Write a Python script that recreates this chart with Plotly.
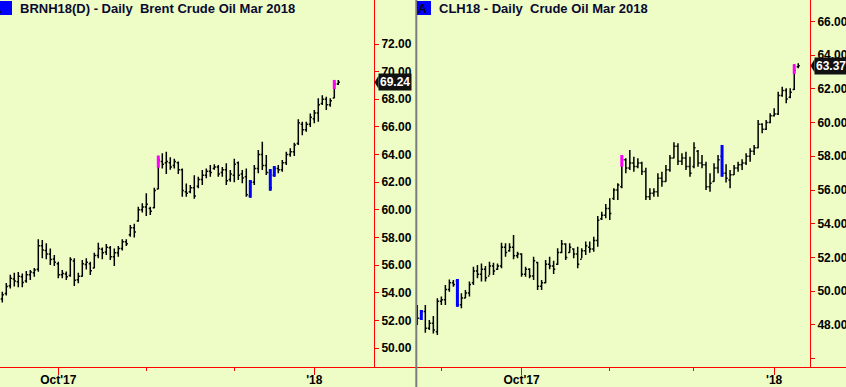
import plotly.graph_objects as go

# ---------------- data: Brent (left panel) ----------------
brent_high = [54.08, 54.70, 55.30, 55.45, 55.50, 55.40, 55.57, 55.65, 55.80, 57.87,
              57.82, 57.58, 57.21, 56.73, 56.25, 55.65, 55.53, 56.57, 56.49, 55.45,
              56.37, 56.49, 56.25, 56.90, 57.62, 57.28, 57.53, 57.38, 57.21, 57.38,
              57.87, 57.87, 58.90, 59.00, 60.23, 60.47, 61.20, 60.23, 61.60, 63.92,
              64.10, 64.20, 63.80, 63.70, 63.50, 63.00, 61.90, 61.80, 62.50, 62.40,
              62.88, 63.00, 63.24, 63.30, 63.24, 63.10, 63.37, 62.88, 63.70, 63.50,
              62.88, 63.00, 62.16, 63.24, 64.33, 64.93, 63.97, 62.95, 63.17, 63.24,
              63.60, 64.20, 64.45, 64.86, 66.55, 66.38, 66.38, 66.98, 67.22, 68.07,
              68.30, 68.19, 68.07, 69.40, 69.40]
brent_low = [53.30, 53.80, 54.30, 54.45, 54.40, 54.40, 54.73, 54.92, 55.16, 55.52,
             56.49, 56.42, 56.01, 55.93, 55.05, 55.05, 54.92, 55.16, 54.49, 54.68,
             55.16, 55.69, 55.28, 55.77, 56.49, 56.42, 56.73, 56.37, 55.93, 56.61,
             57.05, 57.38, 58.06, 58.00, 59.14, 59.80, 59.55, 59.63, 60.11, 61.49,
             63.00, 62.60, 62.90, 63.00, 62.60, 60.95, 60.95, 61.20, 60.80, 61.56,
             61.80, 62.28, 62.40, 62.90, 62.40, 62.40, 61.80, 62.04, 62.00, 62.16,
             61.92, 60.95, 60.88, 61.80, 62.64, 62.88, 62.52, 61.39, 62.40, 62.64,
             62.76, 63.24, 63.85, 63.90, 64.70, 65.40, 65.65, 66.00, 66.26, 66.38,
             67.59, 67.22, 67.46, 68.07, 69.03]
brent_open = [53.55, 53.95, 54.50, 55.00, 54.80, 55.15, 54.85, 55.30, 55.45, 55.70,
              57.40, 57.05, 56.80, 56.45, 56.10, 55.30, 55.35, 55.25, 56.30, 54.95,
              55.20, 56.05, 56.10, 55.80, 56.70, 57.15, 56.95, 57.25, 56.60, 56.90,
              57.20, 57.70, 58.20, 58.70, 59.20, 60.00, 60.20, 60.10, 60.15, 61.50,
              63.50, 63.40, 63.40, 63.20, 63.40, 62.90, 61.30, 61.30, 61.60, 61.70,
              62.20, 62.50, 62.80, 63.00, 63.10, 62.70, 62.90, 62.20, 62.50, 63.40,
              62.60, 62.40, 61.00, 62.00, 63.00, 64.00, 63.20, 62.70, 62.50, 63.00,
              62.90, 63.40, 64.00, 64.20, 64.80, 66.20, 65.80, 66.20, 66.60, 67.00,
              67.70, 68.00, 67.60, 68.10, 69.10]
brent_close = [53.85, 54.45, 55.05, 54.85, 55.20, 54.75, 55.30, 55.50, 55.65, 57.40,
               57.10, 56.80, 56.40, 56.20, 55.30, 55.40, 55.15, 56.40, 54.90, 55.20,
               56.10, 56.20, 55.60, 56.70, 57.20, 56.90, 57.30, 56.60, 56.90, 57.20,
               57.70, 57.55, 58.70, 58.40, 60.00, 60.20, 60.40, 59.90, 61.40, 63.60,
               63.30, 63.50, 63.10, 63.50, 62.90, 61.40, 61.20, 61.60, 61.00, 62.20,
               62.50, 62.80, 62.70, 63.10, 62.60, 62.90, 62.10, 62.60, 63.30, 62.50,
               62.30, 61.10, 62.00, 63.00, 64.00, 63.20, 62.70, 61.60, 63.00, 62.90,
               63.40, 64.00, 64.20, 64.70, 66.30, 65.80, 66.20, 66.70, 67.00, 67.60,
               68.00, 67.60, 67.90, 69.10, 69.24]
brent_hl_idx = [39, 62, 67, 68, 83]
brent_hl_lo = [63.05, 60.88, 61.39, 62.40, 68.74]
brent_hl_hi = [63.92, 62.16, 62.95, 63.17, 69.40]
brent_hl_col = ["#ff00ff", "#0000ff", "#0000ff", "#0000ff", "#ff00ff"]
brent_tick_major = [14, 78]
brent_tick_major_text = ["Oct'17", "'18"]
brent_tick_minor = [36, 58]
brent_yticks = [50, 52, 54, 56, 58, 60, 62, 64, 66, 68, 70, 72]

# ---------------- data: WTI (right panel) ----------------
wti_high = [49.18, 48.89, 49.18, 48.30, 48.53, 49.58, 49.68, 50.37, 50.70, 50.67,
            50.72, 49.88, 50.07, 50.57, 51.45, 51.55, 51.65, 51.49, 51.75, 51.69,
            51.65, 52.88, 52.84, 52.84, 53.33, 52.34, 52.25, 51.45, 51.36, 52.05,
            51.75, 50.67, 51.85, 52.05, 51.81, 52.54, 53.04, 52.84, 52.84, 52.54,
            52.64, 52.54, 52.94, 52.94, 53.23, 54.46, 54.71, 55.17, 55.51, 56.10,
            56.40, 58.07, 57.88, 58.37, 57.97, 57.88, 57.68, 57.32, 56.10, 56.10,
            56.99, 57.08, 57.48, 58.07, 58.83, 58.77, 58.18, 58.27, 57.97, 58.83,
            58.37, 58.07, 57.68, 56.99, 57.58, 58.07, 58.67, 57.52, 57.19, 57.48,
            57.68, 57.82, 58.18, 58.47, 58.67, 60.15, 59.95, 60.15, 60.55, 60.84,
            61.83, 62.12, 62.03, 62.03, 63.45, 63.51]
wti_low = [48.00, 48.30, 47.54, 47.70, 47.50, 47.40, 49.18, 49.18, 49.97, 50.27,
           49.08, 48.99, 49.58, 49.68, 50.37, 50.77, 50.57, 50.57, 50.96, 50.96,
           51.26, 51.36, 52.05, 52.34, 51.89, 51.95, 50.86, 50.86, 50.77, 50.67,
           50.07, 50.07, 50.47, 51.30, 51.02, 51.55, 52.25, 51.85, 52.28, 51.95,
           51.36, 51.95, 52.15, 52.28, 52.34, 52.64, 54.22, 54.32, 54.22, 55.41,
           55.40, 56.10, 56.99, 57.19, 57.08, 57.29, 56.89, 55.41, 55.41, 55.60,
           55.60, 56.20, 56.49, 57.08, 57.88, 57.48, 57.48, 57.19, 56.79, 57.29,
           57.38, 57.29, 56.00, 55.90, 56.49, 56.99, 56.79, 56.45, 56.10, 56.89,
           57.08, 57.19, 57.48, 57.68, 58.07, 58.47, 59.36, 59.56, 59.95, 60.35,
           60.45, 61.53, 61.14, 61.44, 61.93, 63.21]
wti_open = [48.90, 48.40, 48.80, 47.80, 48.10, 47.60, 49.40, 49.50, 50.10, 50.50,
            50.60, 49.20, 49.60, 49.90, 50.50, 51.20, 51.00, 51.30, 50.90, 51.50,
            51.30, 51.50, 52.60, 52.40, 52.60, 52.10, 52.20, 51.00, 51.30, 50.90,
            51.70, 50.30, 50.50, 51.60, 51.50, 51.60, 52.30, 52.80, 52.30, 52.50,
            52.20, 51.90, 52.40, 52.60, 52.50, 53.00, 54.30, 54.50, 54.90, 55.50,
            56.00, 56.20, 57.80, 57.30, 57.60, 57.40, 57.60, 57.10, 55.60, 55.80,
            55.90, 56.70, 56.50, 57.20, 57.90, 58.60, 57.70, 57.90, 57.40, 57.40,
            58.30, 57.60, 57.50, 56.20, 56.50, 57.30, 58.00, 57.00, 56.60, 56.90,
            57.30, 57.50, 57.60, 58.00, 58.30, 58.50, 59.90, 59.60, 60.00, 60.40,
            60.50, 61.60, 61.90, 61.50, 61.95, 63.30]
wti_close = [48.40, 48.80, 47.80, 48.10, 47.70, 49.40, 49.50, 50.10, 50.50, 50.40,
             49.20, 49.60, 49.90, 50.40, 51.20, 51.00, 51.30, 50.80, 51.50, 51.20,
             51.50, 52.60, 52.30, 52.60, 52.10, 52.20, 51.00, 51.30, 50.90, 51.80,
             50.30, 50.50, 51.60, 51.50, 51.30, 52.30, 52.80, 52.00, 52.60, 52.20,
             51.60, 52.40, 52.70, 52.50, 53.00, 54.20, 54.50, 54.90, 54.60, 56.00,
             56.30, 57.80, 57.30, 57.60, 57.40, 57.60, 57.10, 55.60, 55.80, 55.90,
             56.70, 56.50, 57.20, 57.90, 58.60, 57.70, 57.90, 57.40, 57.00, 58.50,
             57.60, 57.50, 56.20, 56.40, 57.30, 57.80, 57.00, 56.70, 56.90, 57.30,
             57.50, 57.60, 58.00, 58.30, 58.50, 59.90, 59.60, 60.00, 60.40, 60.50,
             61.60, 61.90, 61.40, 61.80, 63.10, 63.37]
wti_hl_idx = [1, 10, 51, 76, 94]
wti_hl_lo = [48.30, 49.08, 57.38, 56.79, 62.88]
wti_hl_hi = [48.89, 50.72, 58.07, 58.67, 63.45]
wti_hl_col = ["#0000ff", "#0000ff", "#ff00ff", "#0000ff", "#ff00ff"]
wti_tick_major = [26, 89]
wti_tick_major_text = ["Oct'17", "'18"]
wti_tick_minor = [6, 48, 69]
wti_yticks = [46, 48, 50, 52, 54, 56, 58, 60, 62, 64, 66]

titles = ["BRNH18(D) - Daily\u00a0 Brent Crude Oil Mar 2018",
          "CLH18 - Daily\u00a0 Crude Oil Mar 2018"]

# ---------------- styling / geometry ----------------
W, H = 846, 387
BG = "#edfdc5"
RED = "#ff0000"
FONT = "Liberation Sans, Arial, sans-serif"
plot_bottom_px = 366.5
ydom = [(H - plot_bottom_px) / H, 1.0]


def px(x):
    return x / W


def py(y):
    return 1 - y / H


fig = go.Figure()


def add_panel(xa, ya, high, low, opn, close, hl_idx, hl_lo, hl_hi, hl_col):
    n = len(high)
    xs = list(range(n))
    fig.add_trace(go.Ohlc(
        x=xs, open=opn, high=high, low=low, close=close,
        increasing=dict(line=dict(color="black", width=1.5)),
        decreasing=dict(line=dict(color="black", width=1.5)),
        tickwidth=0.4, xaxis=xa, yaxis=ya, hoverinfo="skip", showlegend=False))
    for col in sorted(set(hl_col)):
        hx, hy = [], []
        for i, lo, hi, c in zip(hl_idx, hl_lo, hl_hi, hl_col):
            if c == col:
                hx += [i, i, None]
                hy += [lo, hi, None]
        fig.add_trace(go.Scatter(x=hx, y=hy, mode="lines",
                                 line=dict(color=col, width=3),
                                 xaxis=xa, yaxis=ya, hoverinfo="skip",
                                 showlegend=False))


add_panel("x", "y", brent_high, brent_low, brent_open, brent_close,
          brent_hl_idx, brent_hl_lo, brent_hl_hi, brent_hl_col)
add_panel("x2", "y2", wti_high, wti_low, wti_open, wti_close,
          wti_hl_idx, wti_hl_lo, wti_hl_hi, wti_hl_col)

# pixel geometry of bar positions
L_x0, L_step = 2.3, 4.0
R_x0, R_step = 417.3, 4.01
L_dom = [0, 416]
R_dom = [417, 846]


def xrange_for(dom, x0, step):
    return [(dom[0] - x0) / step, (dom[1] - x0) / step]


# y ranges (price at top/bottom pixel)
L_top = 72 + 44 / 13.82
L_bot = 72 - (plot_bottom_px - 44) / 13.82
R_top = 66 + 21.3 / 16.87
R_bot = 66 - (plot_bottom_px - 21.3) / 16.87

tickfont = dict(family=FONT, size=12, color="black", weight="bold")

common_x = dict(showgrid=False, zeroline=False, showline=True, linecolor=RED,
                linewidth=1, ticks="outside", tickcolor=RED, ticklen=7,
                tickwidth=1, tickfont=tickfont, tickmode="array",
                ticklabelstandoff=-5,
                rangeslider=dict(visible=False), automargin=False, fixedrange=True)
common_y = dict(showgrid=False, zeroline=False, showline=True, linecolor=RED,
                linewidth=1, ticks="outside", tickcolor=RED, ticklen=4,
                tickwidth=1, tickfont=tickfont, tickmode="array", side="right",
                anchor="free", automargin=False, domain=ydom, fixedrange=True)

fig.update_layout(
    width=W, height=H, margin=dict(l=0, r=0, t=0, b=0),
    paper_bgcolor=BG, plot_bgcolor=BG, showlegend=False,
    xaxis=dict(common_x, domain=[px(L_dom[0]), px(L_dom[1])],
               range=xrange_for(L_dom, L_x0, L_step), anchor="y",
               tickvals=brent_tick_major, ticktext=brent_tick_major_text,
               minor=dict(tickmode="array", tickvals=brent_tick_minor,
                          ticks="outside", ticklen=3, tickcolor=RED)),
    yaxis=dict(common_y, range=[L_bot, L_top], position=px(374),
               tickvals=brent_yticks,
               ticktext=[f"{v:.2f}" for v in brent_yticks]),
    xaxis2=dict(common_x, domain=[px(R_dom[0]), px(R_dom[1])],
                range=xrange_for(R_dom, R_x0, R_step), anchor="y2",
                tickvals=wti_tick_major, ticktext=wti_tick_major_text,
                minor=dict(tickmode="array", tickvals=wti_tick_minor,
                           ticks="outside", ticklen=3, tickcolor=RED)),
    yaxis2=dict(common_y, range=[R_bot, R_top], position=px(810),
                tickvals=wti_yticks,
                ticktext=["" if v == 46 else f"{v:.2f}" for v in wti_yticks]),
)

shapes = []
annotations = []

# divider between the two panels
shapes.append(dict(type="line", xref="paper", yref="paper",
                   x0=px(416.3), x1=px(416.3), y0=0, y1=1,
                   line=dict(color="#7c7c7c", width=2)))

# blue "A" boxes + titles
for (bx0, bx1, ax, tx, title) in [(-8, 12, 3.5, 18, titles[0]),
                                  (417, 431, 422.5, 437, titles[1])]:
    shapes.append(dict(type="rect", xref="paper", yref="paper",
                       x0=px(bx0), x1=px(bx1), y0=py(15), y1=py(1),
                       fillcolor="#0000ff", line=dict(width=0), layer="above"))
    annotations.append(dict(text="A", xref="paper", yref="paper",
                            x=px(ax), y=py(8.5), xanchor="center" if bx0 > 0 else "right",
                            yanchor="middle", showarrow=False,
                            font=dict(family=FONT, size=12, color="#000020",
                                      weight="bold")))
    annotations.append(dict(text=title, xref="paper", yref="paper",
                            x=px(tx), y=py(8.5), xanchor="left", yanchor="middle",
                            showarrow=False,
                            font=dict(family=FONT, size=13, color="#0a0a30",
                                      weight="bold")))

# last price labels
for (yref, last, axis_px, ppu) in [("y", brent_close[-1], 374, 13.82),
                                   ("y2", wti_close[-1], 810, 16.87)]:
    half = 6.5 / ppu
    tip = px(axis_px + 0.5)
    base = px(axis_px + 4.5)
    shapes.append(dict(type="path", xref="paper", yref=yref,
                       path=f"M {tip},{last} L {base},{last + half} L {base},{last - half} Z",
                       fillcolor="#111111", line=dict(width=0), layer="above"))
    annotations.append(dict(text=f"{last:.2f}", xref="paper", yref=yref,
                            x=px(axis_px + 3.5), y=last, xanchor="left",
                            yanchor="middle", showarrow=False,
                            bgcolor="#111111", borderpad=1,
                            font=dict(family=FONT, size=12, color="white",
                                      weight="bold")))

fig.update_layout(shapes=shapes, annotations=annotations)

fig.write_html("out.html")
